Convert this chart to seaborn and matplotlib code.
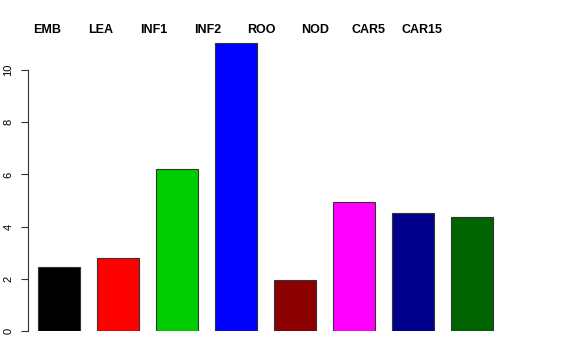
import numpy as np
import pandas as pd
import matplotlib
matplotlib.use("Agg")
import matplotlib.pyplot as plt
import seaborn as sns

# donnees
tissues = ["EMB", "LEA", "INF1", "INF2", "ROO", "NOD", "CAR5", "CAR15"]
values = [2.45, 2.8, 6.22, 11.03, 1.95, 4.93, 4.53, 4.35]
colors = ["#000000", "#FF0000", "#00CD00", "#0000FF", "#8B0000", "#FF00FF", "#00008B", "#006400"]
yticks = [0, 2, 4, 6, 8, 10]

df = pd.DataFrame({"tissue": tissues, "value": values})

sns.set_style("white")
plt.rcParams['font.family'] = ['Liberation Sans', 'DejaVu Sans']
plt.rcParams['text.color'] = 'black'
plt.rcParams['ytick.color'] = 'black'

W, H = 576, 360
fig = plt.figure(figsize=(W / 100, H / 100), dpi=100)
# axes placees en pixels : gauche 28, droite 548, bas 331, haut 30
ax = fig.add_axes([28 / W, (H - 331) / H, 520 / W, 301 / H])

sns.barplot(data=df, x="tissue", y="value", hue="tissue", palette=colors,
            width=0.71, edgecolor="#333333", linewidth=0.8, legend=False,
            saturation=1, ax=ax)

ax.set_xlim((28 - 59) / 59, (548 - 59) / 59)
ax.set_ylim(0, 301 / 26.1)

for s in ["top", "right", "bottom"]:
    ax.spines[s].set_visible(False)
ax.spines["left"].set_bounds(0, 10)
ax.spines["left"].set_color("#333333")
ax.spines["left"].set_linewidth(0.8)

ax.set_yticks(yticks)
ax.set_yticklabels([str(t) for t in yticks], rotation=90, va="center", ha="center",
                   fontsize=8)
ax.tick_params(axis="y", length=5, width=0.8, color="#333333", labelcolor="black",
               pad=9, left=True)
ax.set_xticks([])
ax.set_xlabel("")
ax.set_ylabel("")

# noms des tissus en haut (decales par rapport aux barres, comme l'original)
label_x = (47 - 59) / 59 + np.arange(len(tissues)) * 53.6 / 59
for xl, name in zip(label_x, tissues):
    ax.text(xl, 1.0, name, transform=ax.get_xaxis_transform(), ha="center",
            va="center", fontsize=9, fontweight="bold", color="black")

fig.savefig("out.png", dpi=100)
